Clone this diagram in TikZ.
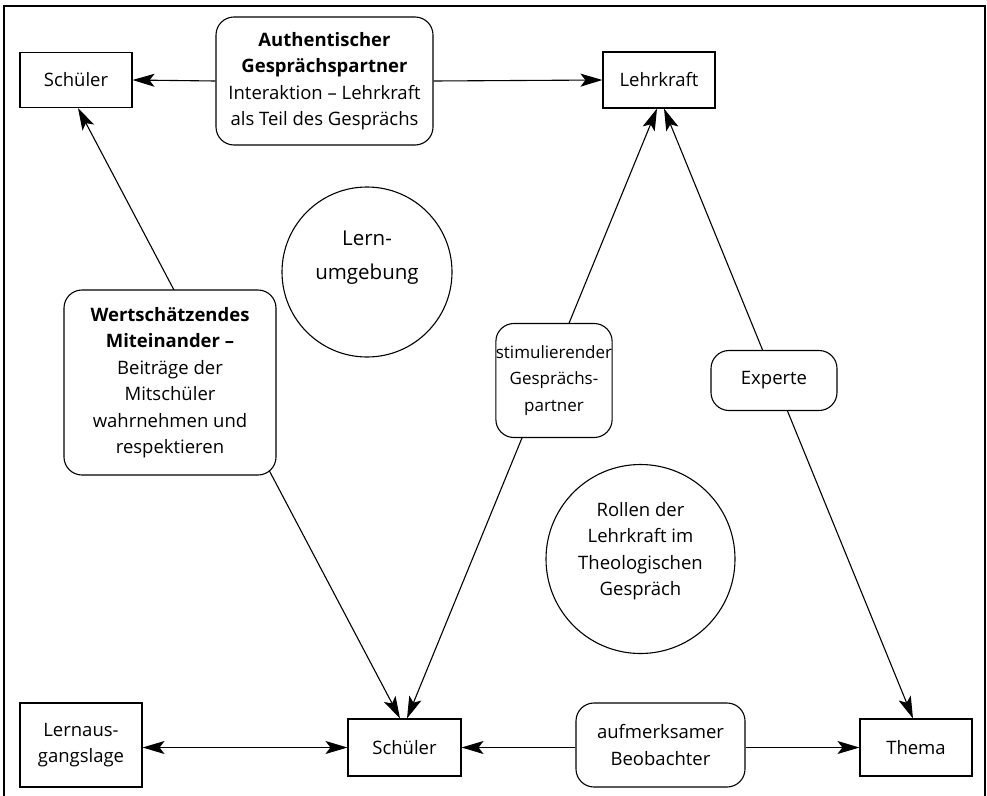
\documentclass[tikz,border=0pt]{standalone}
\usepackage{fontspec}
\setmainfont{Open Sans}
\usetikzlibrary{arrows.meta,backgrounds}
\begin{document}
\begin{tikzpicture}[x=1pt,y=-1pt,
  every node/.style={font=\fontsize{18.5}{26.5}\selectfont, align=center, inner sep=0pt},
  box/.style={draw, line width=1.1pt, fill=white},
  rbox/.style={box, rounded corners=18pt},
  ring/.style={draw, circle, line width=1.1pt, fill=white},
  tip/.tip={Stealth[length=22pt,width=13pt,inset=5pt]},
  conn/.style={line width=1.1pt, -tip},
  dconn/.style={line width=1.1pt, tip-tip}]
\useasboundingbox (0,0) rectangle (987,795);
\draw[line width=1.3pt] (4,800) -- (4,6) -- (985,6) -- (985,800);

\node[box, minimum width=112, minimum height=55] (s1) at (76,80) {Schüler};
\node[rbox, minimum width=217, minimum height=128] (auth) at (324.5,81)
  {\textbf{Authentischer}\\\textbf{Gesprächspartner}\\Interaktion – Lehrkraft\\als Teil des Gesprächs};
\node[box, minimum width=112, minimum height=56] (l1) at (659,80) {Lehrkraft};
\node[ring, minimum size=170] (lern) at (367,272) {};
\node[font=\fontsize{20.5}{34}\selectfont] (lerntext) at (367,258) {Lern-\\umgebung};
\node[rbox, minimum width=212, minimum height=185] (wert) at (170,382.5)
  {\textbf{Wertschätzendes}\\\textbf{Miteinander –}\\Beiträge der\\Mitschüler\\wahrnehmen und\\respektieren};
\node[rbox, minimum width=114, minimum height=114, font=\fontsize{17}{26.5}\selectfont] (stim) at (554,380.5) {stimulierender\\Gesprächs-\\partner};
\node[rbox, minimum width=126, minimum height=60] (exp) at (774,380.5) {Experte};
\node[ring, minimum size=189] (roll) at (640.5,559) {};
\node (rolltext) at (640.5,551) {Rollen der\\Lehrkraft im\\Theologischen\\Gespräch};
\node[box, minimum width=122, minimum height=84] (lag) at (81,745) {Lernaus-\\gangslage};
\node[box, minimum width=113, minimum height=57] (s2) at (404.5,747.5) {Schüler};
\node[rbox, minimum width=169, minimum height=84] (auf) at (660.5,745) {aufmerksamer\\Beobachter};
\node[box, minimum width=112, minimum height=57] (thema) at (916,747.5) {Thema};

\begin{scope}[on background layer]
\draw[conn] (auth.west) -- (s1.east);
\draw[conn] (auth.east) -- (l1.west);
\draw[dconn] ([xshift=2]s1.south) -- ([xshift=-4.5]s2.north);
\draw[dconn] ([xshift=-2]l1.south) -- ([xshift=2.5]s2.north);
\draw[dconn] ([xshift=5]l1.south) -- ([xshift=-3]thema.north);
\draw[dconn] ([yshift=-2.5]lag.east) -- (s2.west);
\draw[conn] ([yshift=-2.5]auf.west) -- (s2.east);
\draw[conn] ([yshift=-2.5]auf.east) -- (thema.west);
\end{scope}
\end{tikzpicture}
\end{document}
